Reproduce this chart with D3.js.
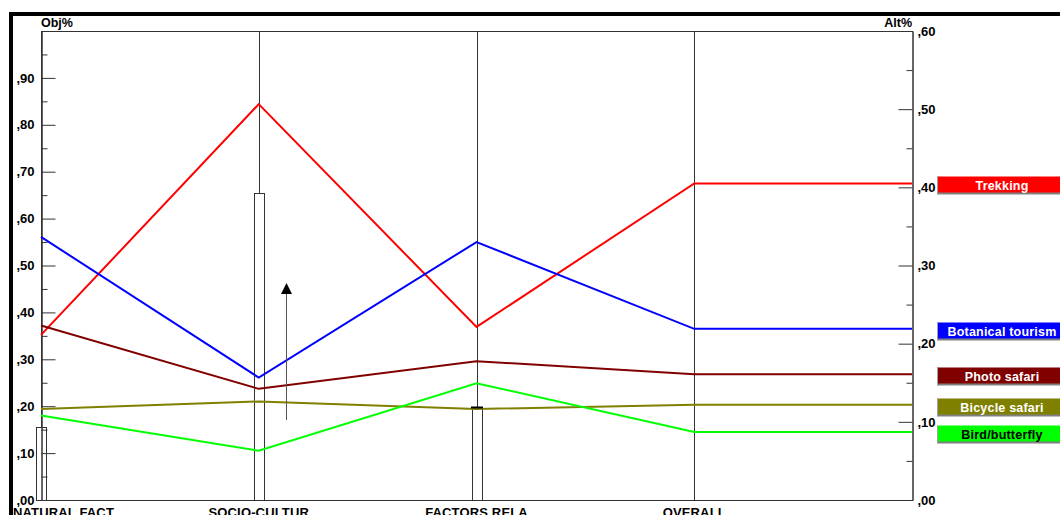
<!DOCTYPE html>
<html><head><meta charset="utf-8">
<script src="https://cdn.jsdelivr.net/npm/d3@7/dist/d3.min.js"></script>
<style>
html,body{margin:0;padding:0;background:#fff;overflow:hidden}
svg{display:block;font-family:"Liberation Sans",Arial,sans-serif;font-weight:bold}
</style></head><body>
<script>
const categories = ["NATURAL FACT","SOCIO-CULTUR","FACTORS RELA","OVERALL"];
const weights = [0.155, 0.655, 0.198];
const alternatives = ["Trekking","Botanical tourism","Photo safari","Bicycle safari","Bird/butterfly"];
const colors = ["#ff0000","#0000ff","#800000","#808000","#00ff00"];
const textColors = ["#ffffff","#ffffff","#ffffff","#ffffff","#000000"];
const trekking = [0.352, 0.844, 0.369];
const botanical = [0.561, 0.261, 0.550];
const photoSafari = [0.372, 0.237, 0.296];
const bicycleSafari = [0.194, 0.210, 0.194];
const birdButterfly = [0.180, 0.105, 0.249];
const overall = [0.405, 0.219, 0.161, 0.122, 0.087];
const leftTicks = [0,0.1,0.2,0.3,0.4,0.5,0.6,0.7,0.8,0.9];
const rightTicks = [0,0.1,0.2,0.3,0.4,0.5,0.6];
const criteriaSeries = [trekking, botanical, photoSafari, bicycleSafari, birdButterfly];

const W=1060,H=515;
const svg=d3.select("body").append("svg").attr("width",W).attr("height",H);
const L=41,R=912,T=31,B=500;
const x=d3.scaleLinear().domain([0,categories.length]).range([L,R]);
const yL=d3.scaleLinear().domain([0,1]).range([B,T]);
const yR=d3.scaleLinear().domain([0,0.6]).range([B,T]);
const fmt=v=>","+d3.format(".2f")(v).split(".")[1];

// frame
svg.append("rect").attr("x",9).attr("y",12).attr("width",W-9).attr("height",4).attr("fill","#000");
svg.append("rect").attr("x",9).attr("y",12).attr("width",4).attr("height",H-12).attr("fill","#000");

// top & bottom lines
svg.append("line").attr("x1",L).attr("x2",R).attr("y1",T+0.5).attr("y2",T+0.5).attr("stroke","#333");
svg.append("line").attr("x1",L).attr("x2",R).attr("y1",B+0.5).attr("y2",B+0.5).attr("stroke","#333");

// vertical grid lines
svg.append("g").selectAll("line").data(categories).join("line")
  .attr("x1",(d,i)=>Math.round(x(i))+0.5).attr("x2",(d,i)=>Math.round(x(i))+0.5)
  .attr("y1",T).attr("y2",B).attr("stroke","#333");

// weight bars
svg.append("g").selectAll("rect").data(weights).join("rect")
  .attr("x",(d,i)=>Math.round(x(i))-5+0.5).attr("width",10)
  .attr("y",d=>Math.round(yL(d))+0.5).attr("height",d=>B-Math.round(yL(d)))
  .attr("fill","#fff").attr("stroke","#333");

// axes
svg.append("g").attr("transform",`translate(${L+0.5},0)`)
  .call(d3.axisLeft(yL).tickValues(leftTicks).tickSize(-14).tickPadding(7).tickFormat(fmt));
svg.append("g").attr("transform",`translate(${L+0.5},0)`)
  .call(d3.axisLeft(yL).tickValues(d3.range(0.05,1,0.1)).tickSize(-6).tickFormat(""));
svg.append("g").attr("transform",`translate(${R+0.5},0)`)
  .call(d3.axisRight(yR).tickValues(rightTicks).tickSize(-14).tickPadding(5).tickFormat(fmt));
svg.append("g").attr("transform",`translate(${R+0.5},0)`)
  .call(d3.axisRight(yR).tickValues(d3.range(0.05,0.6,0.1)).tickSize(-6).tickFormat(""));
svg.selectAll(".domain").attr("stroke","#333");
svg.selectAll(".tick line").attr("stroke","#333");
svg.selectAll(".tick text").attr("font-size",13).attr("font-weight","bold")
  .attr("font-family","Liberation Sans, Arial, sans-serif").attr("fill","#000");

// axis titles
svg.append("text").attr("x",L).attr("y",27).attr("font-size",12.5).text("Obj%");
svg.append("text").attr("x",R).attr("y",27).attr("font-size",12.5).attr("text-anchor","end").text("Alt%");

// lines
const line=d3.line().x(d=>d[0]).y(d=>d[1]);
alternatives.forEach((a,k)=>{
  const pts=criteriaSeries[k].map((v,i)=>[x(i),yL(v)]);
  pts.push([x(3),yR(overall[k])]);
  pts.push([x(4),yR(overall[k])]);
  svg.append("path").attr("d",line(pts)).attr("fill","none")
    .attr("stroke",colors[k]).attr("stroke-width",2);
});

// cap on FACTORS bar
svg.append("line").attr("x1",Math.round(x(2))-6).attr("x2",Math.round(x(2))+6)
  .attr("y1",Math.round(yL(weights[2]))+0.5).attr("y2",Math.round(yL(weights[2]))+0.5).attr("stroke","#000").attr("stroke-width",2);

// arrow
const ax=Math.round(x(1))+27.5;
svg.append("line").attr("x1",ax).attr("x2",ax).attr("y1",420).attr("y2",292).attr("stroke","#555");
svg.append("path").attr("d",`M${ax},283 L${ax-5.5},294 L${ax+5.5},294 Z`).attr("fill","#000");

// category labels
svg.append("g").selectAll("text").data(categories).join("text")
  .attr("x",(d,i)=>i===0?13:x(i)).attr("y",517)
  .attr("text-anchor",(d,i)=>i===0?"start":"middle")
  .attr("font-size",13).attr("letter-spacing",0.15).text(d=>d);

// legend
const lg=svg.append("g").selectAll("g").data(alternatives).join("g")
  .attr("transform",(d,k)=>`translate(937,${Math.round(yR(overall[k]))+2})`);
lg.append("rect").attr("x",0).attr("y",-8.5).attr("width",130).attr("height",17).attr("fill",(d,k)=>colors[k]);
lg.append("line").attr("x1",0).attr("x2",130).attr("y1",8.5).attr("y2",8.5).attr("stroke","#808080").attr("stroke-width",2);
lg.append("line").attr("x1",0.5).attr("x2",0.5).attr("y1",-8.5).attr("y2",9).attr("stroke","#a0a0a0").attr("stroke-width",1);
lg.append("text").attr("x",65).attr("y",5).attr("text-anchor","middle").attr("font-size",12.5)
  .attr("letter-spacing",0.2)
  .attr("fill",(d,k)=>textColors[k]).text(d=>d);
</script>
</body></html>
